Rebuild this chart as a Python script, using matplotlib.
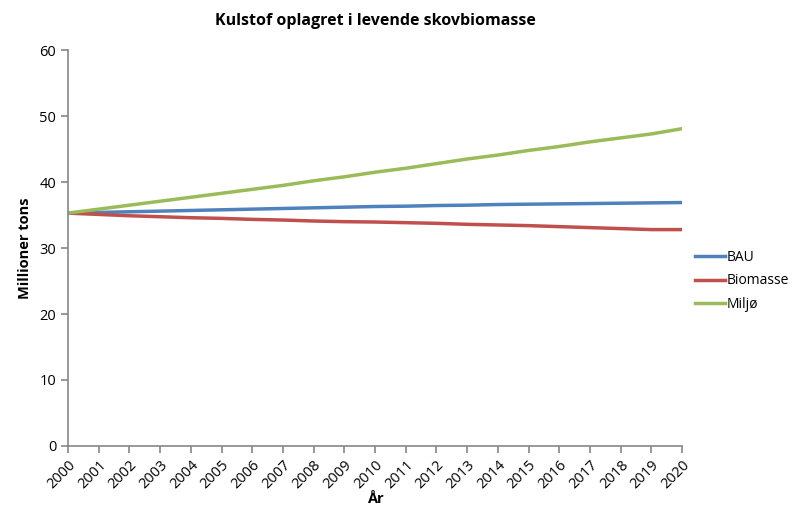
import matplotlib.pyplot as plt

plt.rcParams['font.family'] = ['Open Sans', 'DejaVu Sans']

years = list(range(2000, 2021))
bau = [35.3, 35.4, 35.5, 35.6, 35.7, 35.8, 35.9, 36.0, 36.1, 36.2, 36.3,
       36.35, 36.45, 36.5, 36.6, 36.65, 36.7, 36.75, 36.8, 36.85, 36.9]
biomasse = [35.3, 35.1, 34.9, 34.75, 34.6, 34.5, 34.35, 34.25, 34.1, 34.0, 33.95,
            33.85, 33.75, 33.6, 33.5, 33.4, 33.25, 33.1, 32.95, 32.8, 32.8]
miljo = [35.3, 35.9, 36.5, 37.1, 37.7, 38.3, 38.9, 39.5, 40.2, 40.8, 41.5,
         42.1, 42.8, 43.5, 44.1, 44.8, 45.4, 46.1, 46.7, 47.3, 48.1]

fig = plt.figure(figsize=(7.95, 5.12), dpi=100)
ax = fig.add_axes([0.0855, 0.129, 0.7725, 0.773])

ax.plot(years, bau, color='#4F81BD', lw=2.5, label='BAU')
ax.plot(years, biomasse, color='#C0504D', lw=2.5, label='Biomasse')
ax.plot(years, miljo, color='#9BBB59', lw=2.5, label='Miljø')

ax.set_xlim(2000, 2020)
ax.set_ylim(0, 60)
ax.set_yticks(range(0, 61, 10))
ax.set_xticks(years)
ax.set_xticklabels([str(y) for y in years], rotation=45, ha='right', va='top',
                   rotation_mode='anchor')
for s in ['top', 'right']:
    ax.spines[s].set_visible(False)
for s in ['left', 'bottom']:
    ax.spines[s].set_color('#868686')
    ax.spines[s].set_linewidth(1.2)
ax.tick_params(axis='both', colors='#868686', labelcolor='black', labelsize=10.5,
               length=5, width=1.2)

ax.set_title('Kulstof oplagret i levende skovbiomasse', fontsize=11.5,
             fontweight='bold', pad=18)
ax.set_xlabel('År', fontsize=10.5, fontweight='bold', labelpad=0)
ax.set_ylabel('Millioner tons', fontsize=10.5, fontweight='bold', labelpad=5)

ax.legend(loc='center left', bbox_to_anchor=(1.0, 0.417), frameon=False,
          fontsize=10, handlelength=2.2, handletextpad=0.1, labelspacing=0.6)

fig.savefig('out.png', dpi=100)
